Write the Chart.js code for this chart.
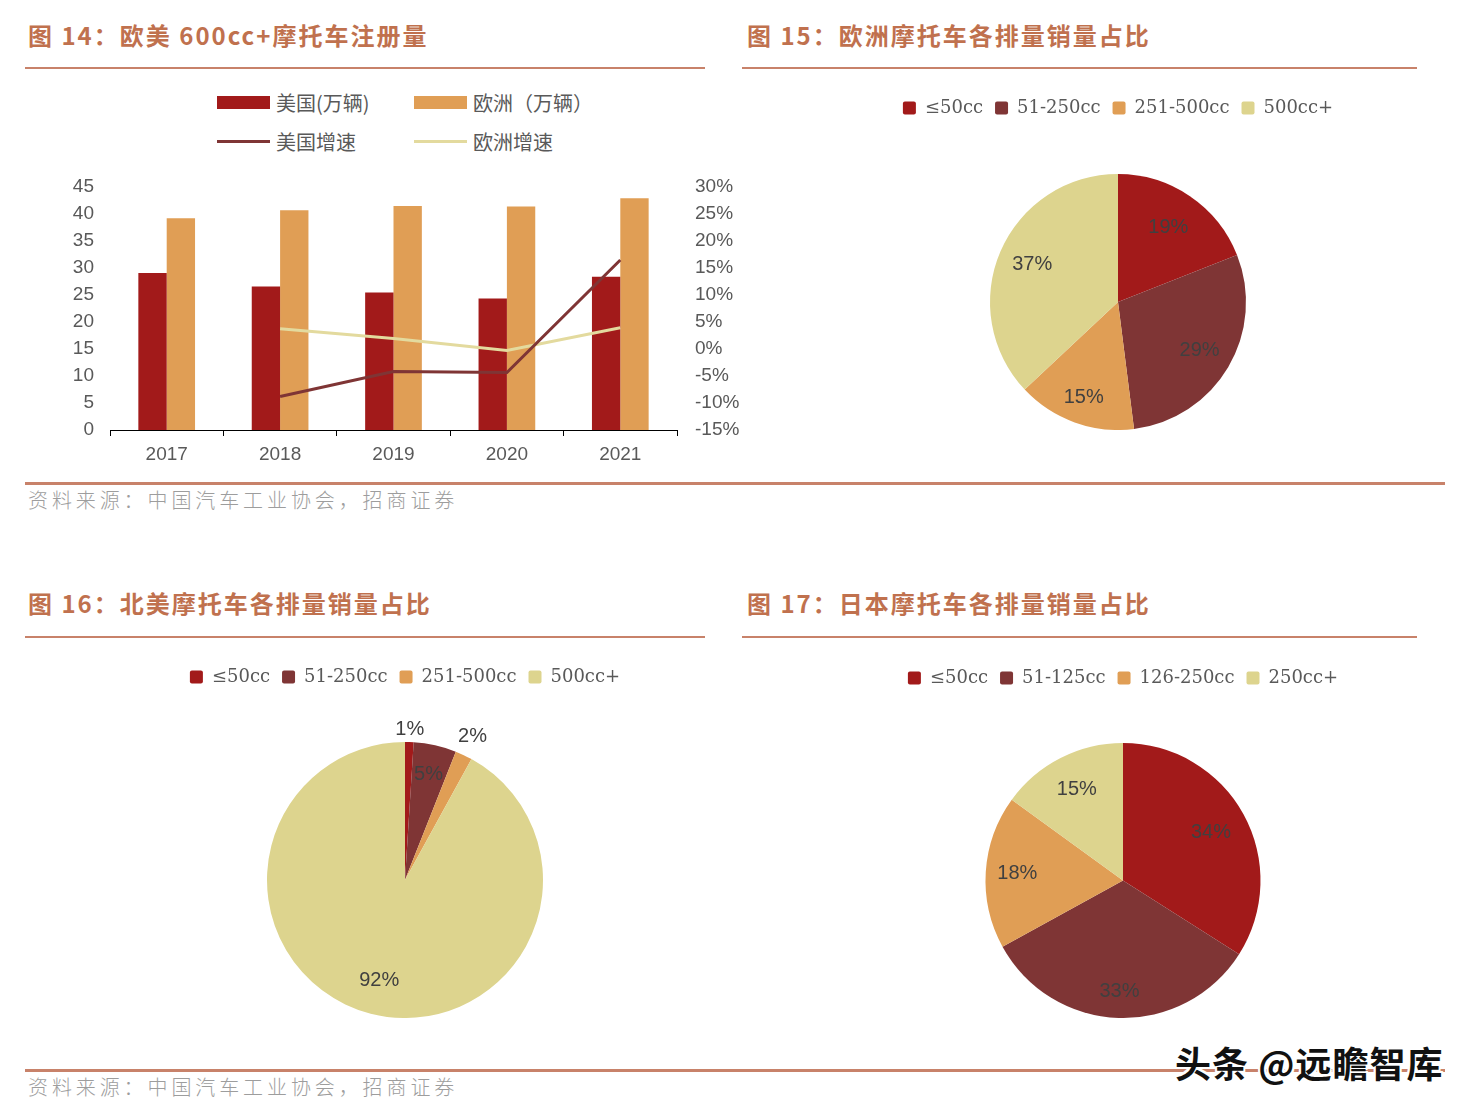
<!DOCTYPE html>
<html>
<head>
<meta charset="utf-8">
<script src="https://cdn.jsdelivr.net/npm/chart.js@4.4.1/dist/chart.umd.min.js"></script>
<style>
  body { margin: 0; width: 1479px; height: 1115px; background: #fff; position: relative; overflow: hidden;
         font-family: "Noto Sans CJK SC", "Liberation Sans", sans-serif; }
  .title { position: absolute; color: #C0714E; font-weight: bold; font-size: 24px; letter-spacing: 2px;
           line-height: 30px; white-space: nowrap; }
  .rule { position: absolute; height: 2px; background: #C8826A; }
  .rule.thick { height: 3px; }
  .src { position: absolute; color: #9d9d9d; font-size: 20px; letter-spacing: 3.9px; font-weight: 300;
         line-height: 26px; white-space: nowrap; }
  canvas { position: absolute; }
  #barLegend { position: absolute; left: 217px; top: 88px; display: grid;
               grid-template-columns: 197px auto; row-gap: 11px; color: #595959; font-size: 20px; }
  #barLegend .item { display: flex; align-items: center; height: 28px; }
  #barLegend .mark { width: 53px; margin-right: 6px; }
  .wm { position: absolute; left: 1175px; top: 1036px; font-size: 36px; font-weight: bold; color: #111;
        letter-spacing: 1px; white-space: nowrap;
        text-shadow: 2px 2px 0 #fff, -2px -2px 0 #fff, 2px -2px 0 #fff, -2px 2px 0 #fff; }
</style>
</head>
<body>

<div class="title" style="left:28px;top:20px">图 14：欧美 600cc+摩托车注册量</div>
<div class="rule" style="left:25px;top:67px;width:680px"></div>
<div class="title" style="left:747px;top:20px">图 15：欧洲摩托车各排量销量占比</div>
<div class="rule" style="left:742px;top:67px;width:675px"></div>

<div id="barLegend"></div>
<canvas id="barChart" width="710" height="305" style="left:40px;top:165px"></canvas>
<canvas id="euPie" width="600" height="343" style="left:818px;top:87px"></canvas>

<div class="rule thick" style="left:25px;top:482px;width:1420px"></div>
<div class="src" style="left:28px;top:487px">资料来源：中国汽车工业协会，招商证券</div>

<div class="title" style="left:28px;top:588px">图 16：北美摩托车各排量销量占比</div>
<div class="rule" style="left:25px;top:636px;width:680px"></div>
<div class="title" style="left:747px;top:588px">图 17：日本摩托车各排量销量占比</div>
<div class="rule" style="left:742px;top:636px;width:675px"></div>

<canvas id="naPie" width="600" height="362" style="left:105px;top:656px"></canvas>
<canvas id="jpPie" width="600" height="361" style="left:823px;top:657px"></canvas>

<div class="rule thick" style="left:25px;top:1069px;width:1420px"></div>
<div class="src" style="left:28px;top:1074px">资料来源：中国汽车工业协会，招商证券</div>
<div class="wm">头条 @远瞻智库</div>

<script>
// 图14 数据
const years = ['2017', '2018', '2019', '2020', '2021'];
const usUnits = [29.0, 26.5, 25.4, 24.3, 28.3];   // 万辆
const euUnits = [39.1, 40.6, 41.4, 41.3, 42.8];   // 万辆
const usGrowth = [null, -8.8, -4.2, -4.4, 16.4];  // %
const euGrowth = [null, 3.7, 1.9, -0.3, 3.9];     // %

// 图15-17 数据
const euSegments = ['≤50cc', '51-250cc', '251-500cc', '500cc+'];
const euShares = [19, 29, 15, 37];
const naSegments = ['≤50cc', '51-250cc', '251-500cc', '500cc+'];
const naShares = [1, 5, 2, 92];
const jpSegments = ['≤50cc', '51-125cc', '126-250cc', '250cc+'];
const jpShares = [34, 33, 18, 15];

const RED = '#A21A1A', MAROON = '#7F3535', ORANGE = '#E09E55', SAND = '#DDD48E';
const pieColors = [RED, MAROON, ORANGE, SAND];

// labels inside/outside slices
const sliceLabels = {
  id: 'sliceLabels',
  afterDatasetsDraw(chart, args, opts) {
    const ctx = chart.ctx;
    const meta = chart.getDatasetMeta(0);
    const values = chart.data.datasets[0].data;
    ctx.save();
    ctx.font = '20px "Liberation Sans Narrow", "Liberation Sans", sans-serif';
    ctx.fillStyle = '#404040';
    ctx.textAlign = 'center';
    ctx.textBaseline = 'middle';
    meta.data.forEach((arc, i) => {
      const p = arc.getProps(['x', 'y', 'startAngle', 'endAngle', 'outerRadius'], true);
      const mid = (p.startAngle + p.endAngle) / 2;
      const f = opts.radii ? opts.radii[i] : 0.75;
      ctx.fillText(values[i] + '%', p.x + Math.cos(mid) * p.outerRadius * f, p.y + Math.sin(mid) * p.outerRadius * f);
    });
    ctx.restore();
  }
};

// extra space under the legend
const legendGap = {
  id: 'legendGap',
  beforeLayout(chart, args, opts) {
    const legend = chart.legend;
    if (!legend || legend._gapPatched) return;
    const fit = legend.fit;
    legend.fit = function () { fit.call(this); this.height += opts.gap || 0; };
    legend._gapPatched = true;
  }
};

const tickFont = { family: 'Liberation Sans', size: 19 };

const barChart = new Chart(document.getElementById('barChart'), {
  data: {
    labels: years,
    datasets: [
      { type: 'bar', label: '美国(万辆)', data: usUnits, backgroundColor: RED, yAxisID: 'y', order: 1,
        categoryPercentage: 0.5, barPercentage: 1.0 },
      { type: 'bar', label: '欧洲（万辆）', data: euUnits, backgroundColor: ORANGE, yAxisID: 'y', order: 1,
        categoryPercentage: 0.5, barPercentage: 1.0 },
      { type: 'line', label: '美国增速', data: usGrowth, borderColor: MAROON, borderWidth: 3, pointRadius: 0,
        tension: 0, yAxisID: 'y1', order: 0 },
      { type: 'line', label: '欧洲增速', data: euGrowth, borderColor: '#E3DA9E', borderWidth: 3, pointRadius: 0,
        tension: 0, yAxisID: 'y1', order: 0 }
    ]
  },
  options: {
    responsive: false,
    animation: false,
    layout: { padding: { top: 3, left: 0, right: 0, bottom: 0 } },
    plugins: { legend: { display: false }, tooltip: { enabled: false } },
    scales: {
      x: {
        grid: { display: true, drawOnChartArea: false, offset: true, tickLength: 6, color: '#000' },
        border: { display: true, color: '#000', width: 1 },
        ticks: { color: '#595959', padding: 7, font: tickFont },
        afterFit(s) { s.height = 40; }
      },
      y: {
        position: 'left', min: 0, max: 45,
        grid: { display: false }, border: { display: false },
        ticks: { stepSize: 5, autoSkip: false, padding: 8, color: '#595959', font: tickFont },
        afterFit(s) { s.width = 70; }
      },
      y1: {
        position: 'right', min: -15, max: 30,
        grid: { display: false }, border: { display: false },
        ticks: { stepSize: 5, autoSkip: false, padding: 10, color: '#595959', font: tickFont,
                 callback: v => v + '%' },
        afterFit(s) { s.width = 73; }
      }
    }
  }
});

// legend for the combo chart, two aligned columns
const barLegend = document.getElementById('barLegend');
barChart.data.datasets.forEach(ds => {
  const item = document.createElement('div');
  item.className = 'item';
  const mark = document.createElement('span');
  mark.className = 'mark';
  mark.style.height = ds.type === 'bar' ? '13px' : '3px';
  mark.style.background = ds.type === 'bar' ? ds.backgroundColor : ds.borderColor;
  const txt = document.createElement('span');
  txt.textContent = ds.label;
  item.appendChild(mark);
  item.appendChild(txt);
  barLegend.appendChild(item);
});

function makePie(id, labels, data, radii, gap) {
  return new Chart(document.getElementById(id), {
    type: 'pie',
    data: { labels, datasets: [{ data, backgroundColor: pieColors, borderWidth: 0, hoverOffset: 0, offset: 0 }] },
    options: {
      responsive: false,
      animation: false,
      layout: { padding: 0 },
      plugins: {
        legend: {
          position: 'top',
          labels: { boxWidth: 13, boxHeight: 13, padding: 12, color: '#595959', useBorderRadius: true, borderRadius: 2,
                    font: { family: 'DejaVu Serif', size: 18 } }
        },
        tooltip: { enabled: false },
        sliceLabels: { radii },
        legendGap: { gap }
      }
    },
    plugins: [sliceLabels, legendGap]
  });
}

makePie('euPie', euSegments, euShares, [0.70, 0.74, 0.79, 0.73], 47);
makePie('naPie', naSegments, naShares, [1.09, 0.78, 1.15, 0.75], 46);
makePie('jpPie', jpSegments, jpShares, [0.73, 0.81, 0.77, 0.74], 46);
</script>
</body>
</html>
